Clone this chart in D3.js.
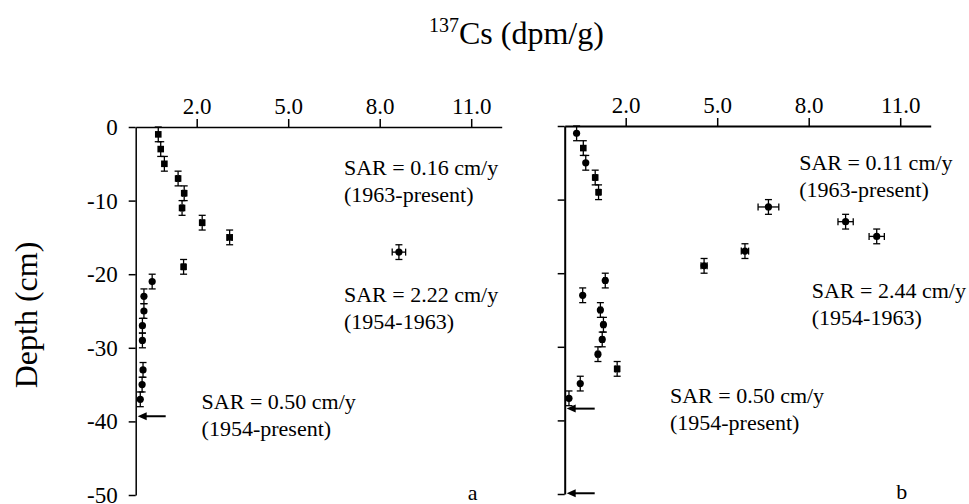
<!DOCTYPE html>
<html lang="en">
<head>
<meta charset="UTF-8">
<title>137Cs depth profiles</title>
<script src="https://d3js.org/d3.v7.min.js"></script>
<style>
  body { margin: 0; background: #fff; }
  svg text { font-family: "Liberation Serif", "Times New Roman", serif !important; fill: #000; }
  .axis path, .axis line { stroke: #000; stroke-width: 1.5; }
  .axis text { font-size: 23px; }
  .err { stroke: #000; stroke-width: 1.3; }
  .note { font-size: 22px; }
</style>
</head>
<body>
<div id="chart"></div>
<script>
// Panel a: depth (cm), 137Cs (dpm/g), x error, marker shape
const depthA = [-1, -3, -5, -7, -9, -11, -13, -15, -17, -19, -21, -23, -25, -27, -29, -33, -35, -37];
const csA    = [0.74, 0.82, 0.94, 1.39, 1.59, 1.52, 2.18, 3.08, 8.63, 1.57, 0.54, 0.27, 0.27, 0.22, 0.22, 0.24, 0.21, 0.15];
const csErrA = [0.04, 0.04, 0.04, 0.05, 0.05, 0.05, 0.06, 0.08, 0.22, 0.05, 0.04, 0.03, 0.03, 0.03, 0.03, 0.03, 0.03, 0.03];
const shapeA = ["s", "s", "s", "s", "s", "s", "s", "s", "c", "s", "c", "c", "c", "c", "c", "c", "c", "c"];

// Panel b
const depthB = [-1, -3, -5, -7, -9, -11, -13, -15, -17, -19, -21, -23, -25, -27, -29, -31, -33, -35, -37];
const csB    = [0.39, 0.61, 0.69, 1.0, 1.11, 6.68, 9.21, 10.23, 5.91, 4.57, 1.33, 0.59, 1.17, 1.27, 1.23, 1.09, 1.72, 0.51, 0.14];
const csErrB = [0.03, 0.04, 0.04, 0.05, 0.05, 0.34, 0.25, 0.25, 0.12, 0.1, 0.05, 0.04, 0.05, 0.05, 0.05, 0.05, 0.06, 0.04, 0.03];
const shapeB = ["c", "s", "c", "s", "s", "c", "c", "c", "c", "c", "c", "c", "c", "c", "c", "c", "s", "c", "c"];

const depthErr = 1.0;

// axis ticks
const xTicks = [2, 5, 8, 11];
const yTicks = [0, -10, -20, -30, -40, -50];

// arrows (depth, cm)
const arrowsA = [-39.3];
const arrowsB = [-38.4, -49.9];

// annotations: [x (dpm/g), depth (cm), line1, line2]
const notesA = [
  [6.83, -6.5, "SAR = 0.16 cm/y", "(1963-present)"],
  [6.83, -23.8, "SAR = 2.22 cm/y", "(1954-1963)"],
  [2.16, -38.3, "SAR = 0.50 cm/y", "(1954-present)"]
];
const notesB = [
  [7.69, -6.0, "SAR = 0.11 cm/y", "(1963-present)"],
  [8.10, -23.4, "SAR = 2.44 cm/y", "(1954-1963)"],
  [3.45, -37.7, "SAR = 0.50 cm/y", "(1954-present)"]
];

const W = 969, H = 504;
const svg = d3.select("#chart").append("svg")
  .attr("width", W).attr("height", H);

// Title
const title = svg.append("text")
  .attr("x", 429).attr("y", 44)
  .style("font-size", "32px");
title.append("tspan").text("137").style("font-size", "20px").attr("dy", "-12");
title.append("tspan").text("Cs (dpm/g)").attr("dy", "12");

// Y label
svg.append("text")
  .attr("transform", "translate(37,315) rotate(-90)")
  .attr("text-anchor", "middle")
  .style("font-size", "32px")
  .text("Depth (cm)");

function drawPanel(opts) {
  const x = d3.scaleLinear().domain([0, 12]).range(opts.xRange);
  const y = d3.scaleLinear().domain([-50, 0]).range(opts.yRange);
  const g = svg.append("g");

  g.append("g").attr("class", "axis")
    .attr("transform", `translate(0,${y(0)})`)
    .call(d3.axisTop(x).tickValues(xTicks).tickFormat(d3.format(".1f"))
      .tickSize(8).tickSizeOuter(0).tickPadding(5));

  const ya = g.append("g").attr("class", "axis")
    .attr("transform", `translate(${x(0)},0)`)
    .call(d3.axisLeft(y).tickValues(yTicks)
      .tickFormat(opts.yLabels ? (d => String(d)) : "")
      .tickSize(7).tickSizeOuter(0).tickPadding(11));
  ya.selectAll("text").attr("dy", "0.33em");
  g.selectAll(".axis .domain").style("stroke-width", opts.axisW || 1.5);

  const pts = opts.depth.map((d, i) => ({
    depth: d, cs: opts.cs[i], ex: opts.err[i], shape: opts.shape[i]
  }));

  const cap = 3.5;
  const pg = g.append("g");
  pts.forEach(p => {
    const cx = x(p.cs), cy = y(p.depth);
    const y1 = y(p.depth + depthErr), y2 = y(p.depth - depthErr);
    const x1 = x(p.cs - p.ex), x2 = x(p.cs + p.ex);
    const e = pg.append("g").attr("class", "err");
    e.append("line").attr("x1", cx).attr("x2", cx).attr("y1", y1).attr("y2", y2);
    e.append("line").attr("x1", cx - cap).attr("x2", cx + cap).attr("y1", y1).attr("y2", y1);
    e.append("line").attr("x1", cx - cap).attr("x2", cx + cap).attr("y1", y2).attr("y2", y2);
    if (x2 - x1 > 3) {
      e.append("line").attr("x1", x1).attr("x2", x2).attr("y1", cy).attr("y2", cy);
      e.append("line").attr("x1", x1).attr("x2", x1).attr("y1", cy - cap).attr("y2", cy + cap);
      e.append("line").attr("x1", x2).attr("x2", x2).attr("y1", cy - cap).attr("y2", cy + cap);
    }
    if (p.shape === "s") {
      pg.append("rect").attr("x", cx - 3.3).attr("y", cy - 3.3)
        .attr("width", 6.6).attr("height", 6.6).attr("fill", "#000");
    } else {
      pg.append("circle").attr("cx", cx).attr("cy", cy).attr("r", 3.6).attr("fill", "#000");
    }
  });

  // arrows pointing at the axis
  opts.arrows.forEach(a => {
    const ay = y(a), ax = x(0) + 2;
    g.append("line").attr("x1", ax + 4).attr("x2", ax + 28)
      .attr("y1", ay).attr("y2", ay).attr("stroke", "#000").attr("stroke-width", 2);
    g.append("path")
      .attr("d", `M${ax},${ay} L${ax + 9},${ay - 4} L${ax + 9},${ay + 4} Z`)
      .attr("fill", "#000");
  });

  opts.notes.forEach(n => {
    const t = g.append("text").attr("class", "note")
      .attr("x", x(n[0])).attr("y", y(n[1]));
    t.append("tspan").attr("x", x(n[0])).text(n[2]);
    t.append("tspan").attr("x", x(n[0])).attr("dy", 27).text(n[3]);
  });

  g.append("text")
    .attr("x", x(opts.letterX)).attr("y", y(-50) + 5)
    .attr("text-anchor", "middle")
    .style("font-size", "22px")
    .text(opts.letter);
}

drawPanel({
  xRange: [135.7, 501.7], yRange: [495, 127],
  depth: depthA, cs: csA, err: csErrA, shape: shapeA,
  arrows: arrowsA, notes: notesA, yLabels: true,
  letter: "a", letterX: 11.05
});

drawPanel({
  xRange: [564.7, 930.7], yRange: [494, 126],
  depth: depthB, cs: csB, err: csErrB, shape: shapeB,
  arrows: arrowsB, notes: notesB, yLabels: false, axisW: 2,
  letter: "b", letterX: 11.05
});
</script>
</body>
</html>
